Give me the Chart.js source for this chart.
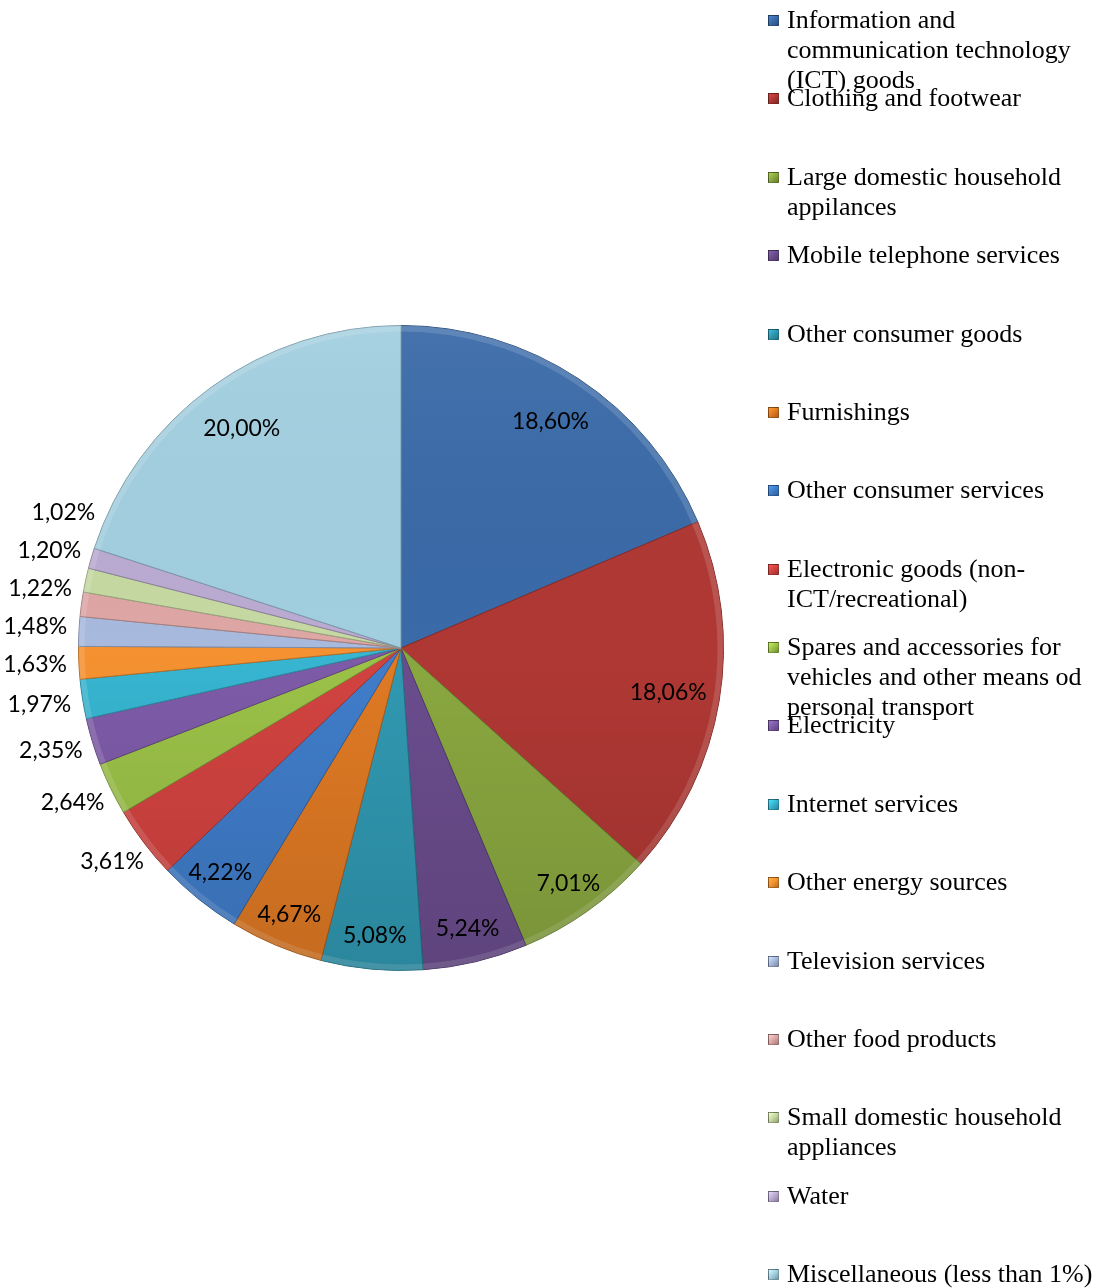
<!DOCTYPE html>
<html>
<head>
<meta charset="utf-8">
<script src="https://cdn.jsdelivr.net/npm/chart.js@4.4.1/dist/chart.umd.min.js"></script>
<style>
  html, body { margin: 0; padding: 0; background: #fff; }
  #wrap { position: relative; width: 1101px; height: 1288px; overflow: hidden; }
  #pie { position: absolute; left: 0; top: 0; }
  #legend { position: absolute; left: 0; top: 0; width: 1101px; height: 1288px; pointer-events: none; }
  .item { position: absolute; left: 768px; width: 333px; font-family: "Liberation Serif", "Times New Roman", serif; font-size: 26px; line-height: 30px; color: #000; }
  .item .box { position: absolute; left: 0; top: 10px; width: 11px; height: 11px; box-sizing: border-box; border: 1px solid rgba(0,0,0,0.35); }
  .item .txt { margin-left: 19px; width: 314px; }
</style>
</head>
<body>
<div id="wrap">
  <canvas id="pie" width="1101" height="1288"></canvas>
  <div id="legend"></div>
</div>
<script>
const categories = [
  "Information and communication technology (ICT) goods",
  "Clothing and footwear",
  "Large domestic household appilances",
  "Mobile telephone services",
  "Other consumer goods",
  "Furnishings",
  "Other consumer services",
  "Electronic goods (non-ICT/recreational)",
  "Spares and accessories for vehicles and other means od personal transport",
  "Electricity",
  "Internet services",
  "Other energy sources",
  "Television services",
  "Other food products",
  "Small domestic household appliances",
  "Water",
  "Miscellaneous (less than 1%)"
];
const shares = [18.60, 18.06, 7.01, 5.24, 5.08, 4.67, 4.22, 3.61, 2.64, 2.35, 1.97, 1.63, 1.48, 1.22, 1.20, 1.02, 20.00];
const colors = [
  "#3a6aa8", "#b03834", "#8aa840", "#6b4d8e", "#3099b2", "#e07a24",
  "#407dca", "#d24340", "#9cc248", "#7e5ba8", "#37b5d1", "#f59130",
  "#a7b9dd", "#dea6a5", "#c6d9a2", "#bbabd2", "#a2cfe0"
];
const outsideBelow = 4;

function shade(hex, f) {
  const n = parseInt(hex.slice(1), 16);
  let r = (n >> 16) & 255, g = (n >> 8) & 255, b = n & 255;
  r = Math.round(r * f); g = Math.round(g * f); b = Math.round(b * f);
  return `rgb(${Math.min(r,255)},${Math.min(g,255)},${Math.min(b,255)})`;
}

function fmt(v) {
  return v.toFixed(2).replace(".", ",") + "%";
}

// legend (HTML)
const legend = document.getElementById("legend");
categories.forEach((name, i) => {
  const el = document.createElement("div");
  el.className = "item";
  el.style.top = (5 + i * 78.375) + "px";
  el.innerHTML = `<span class="box" style="background:linear-gradient(135deg, ${shade(colors[i],1.25)}, ${colors[i]} 50%, ${shade(colors[i],0.75)})"></span><div class="txt">${name}</div>`;
  legend.appendChild(el);
});

const labelPlugin = {
  id: "sliceLabels",
  afterDatasetsDraw(chart) {
    const ctx = chart.ctx;
    const meta = chart.getDatasetMeta(0);
    ctx.save();
    ctx.font = "23px Lato, 'Open Sans', sans-serif";
    ctx.fillStyle = "#000";
    ctx.textAlign = "center";
    ctx.textBaseline = "middle";
    const outside = [];
    meta.data.forEach((arc, i) => {
      const p = arc.getProps(["x", "y", "startAngle", "endAngle", "outerRadius"], true);
      const mid = (p.startAngle + p.endAngle) / 2;
      const txt = fmt(shares[i]);
      const cos = Math.cos(mid), sin = Math.sin(mid);
      if (shares[i] < outsideBelow) {
        const w = ctx.measureText(txt).width;
        const r = p.outerRadius + 12;
        outside.push({ txt, w, cx: p.x, cy: p.y, r, cos, y: p.y + r * sin + 20 * sin });
      } else {
        const r = p.outerRadius * (shares[i] > 10 ? 0.84 : 0.895);
        ctx.fillText(txt, p.x + r * cos, p.y + r * sin);
      }
    });
    // spread outside labels (all on the left) so they don't overlap
    outside.sort((a, b) => b.y - a.y);
    const gap = 38;
    for (let k = 1; k < outside.length; k++) {
      if (outside[k].y > outside[k - 1].y - gap) outside[k].y = outside[k - 1].y - gap;
    }
    outside.forEach(o => {
      const dy = o.y - o.cy;
      const dx = Math.sqrt(Math.max(o.r * o.r - dy * dy, 0));
      const side = o.cos < 0 ? -1 : 1;
      ctx.fillText(o.txt, o.cx + side * (dx + o.w / 2), o.y);
    });
    ctx.restore();
  }
};

// soft bevel: light rim on each slice, slight vertical shading
const bevelPlugin = {
  id: "bevel",
  afterDatasetsDraw(chart) {
    const ctx = chart.ctx;
    const meta = chart.getDatasetMeta(0);
    let cx = 0, cy = 0, R = 0;
    meta.data.forEach((arc) => {
      const p = arc.getProps(["x", "y", "startAngle", "endAngle", "outerRadius"], true);
      cx = p.x; cy = p.y; R = p.outerRadius;
      ctx.save();
      ctx.beginPath();
      ctx.moveTo(p.x, p.y);
      ctx.arc(p.x, p.y, p.outerRadius, p.startAngle, p.endAngle);
      ctx.closePath();
      ctx.clip();
      ctx.lineWidth = 6;
      ctx.strokeStyle = "rgba(255,255,255,0.14)";
      ctx.beginPath();
      ctx.arc(p.x, p.y, p.outerRadius - 3, p.startAngle, p.endAngle);
      ctx.stroke();
      ctx.restore();
    });
    ctx.save();
    ctx.beginPath();
    ctx.arc(cx, cy, R, 0, Math.PI * 2);
    ctx.clip();
    const g = ctx.createLinearGradient(0, cy - R, 0, cy + R);
    g.addColorStop(0, "rgba(255,255,255,0.06)");
    g.addColorStop(0.5, "rgba(0,0,0,0)");
    g.addColorStop(1, "rgba(0,0,0,0.12)");
    ctx.fillStyle = g;
    ctx.fillRect(cx - R, cy - R, 2 * R, 2 * R);
    ctx.restore();
  }
};

new Chart(document.getElementById("pie"), {
  type: "pie",
  data: {
    labels: categories,
    datasets: [{
      data: shares,
      backgroundColor: colors,
      borderColor: colors.map(c => shade(c, 0.75)),
      borderWidth: 1
    }]
  },
  options: {
    responsive: false,
    animation: false,
    layout: { padding: { left: 78, right: 377, top: 325, bottom: 317 } },
    plugins: {
      legend: { display: false },
      tooltip: { enabled: false }
    }
  },
  plugins: [bevelPlugin, labelPlugin]
});
</script>
</body>
</html>
